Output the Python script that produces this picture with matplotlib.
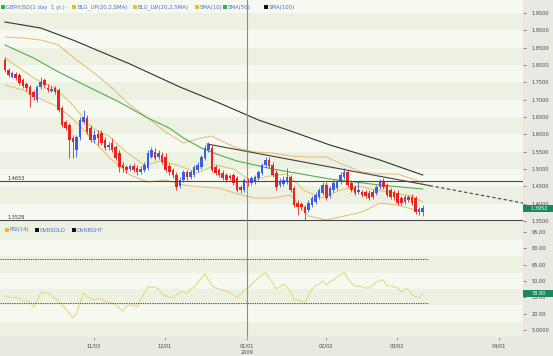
import matplotlib
matplotlib.use("Agg")
import matplotlib.pyplot as plt
import matplotlib.transforms as mtrans
from matplotlib.patches import Rectangle
from matplotlib.ticker import FixedLocator, FixedFormatter
import numpy as np

# ---------------- data (GBP/USD daily) ----------------
opens = [1.8144,1.7856,1.7654,1.7740,1.7711,1.7567,1.7452,1.7365,1.7221,1.6990,
 1.7365,1.7567,1.7336,1.7250,1.7336,1.7279,1.6759,1.6355,1.6269,1.5894,
 1.5548,1.5923,1.6355,1.6471,1.6182,1.5836,1.6009,1.6038,1.5836,1.5634,
 1.5749,1.5634,1.5461,1.5115,1.5057,1.4999,1.5086,1.5028,1.4913,1.4971,
 1.5028,1.5346,1.5490,1.5346,1.5403,1.5346,1.5086,1.4971,1.4826,1.4509,
 1.4682,1.4913,1.4769,1.4826,1.4971,1.5057,1.5317,1.5548,1.5605,1.5057,
 1.4971,1.4884,1.4826,1.4797,1.4826,1.4740,1.4480,1.4394,1.4624,1.4595,
 1.4624,1.4740,1.4884,1.5115,1.5259,1.5115,1.4884,1.4538,1.4567,1.4624,
 1.4769,1.4451,1.4018,1.3989,1.3903,1.3817,1.3961,1.4047,1.4191,1.4307,
 1.4538,1.4220,1.4394,1.4451,1.4624,1.4769,1.4913,1.4595,1.4480,1.4336,
 1.4336,1.4336,1.4307,1.4336,1.4307,1.4480,1.4624,1.4538,1.4394,1.4336,
 1.4307,1.4162,1.4047,1.4191,1.4191,1.4162,1.3759,1.3759]
closes = [1.7856,1.7711,1.7769,1.7625,1.7480,1.7394,1.7336,1.7134,1.7077,1.7365,
 1.7509,1.7423,1.7279,1.7307,1.7221,1.6702,1.6269,1.6182,1.5836,1.5778,
 1.5923,1.6413,1.6500,1.6067,1.5836,1.5980,1.5894,1.5749,1.5605,1.5692,
 1.5548,1.5317,1.5057,1.5028,1.4971,1.5086,1.4971,1.4913,1.4999,1.5115,
 1.5461,1.5548,1.5317,1.5461,1.5201,1.4971,1.4913,1.4826,1.4480,1.4682,
 1.4913,1.4769,1.4913,1.5057,1.5115,1.5346,1.5605,1.5692,1.4971,1.4884,
 1.4826,1.4740,1.4682,1.4740,1.4595,1.4394,1.4394,1.4682,1.4595,1.4740,
 1.4769,1.4913,1.5115,1.5259,1.5086,1.4826,1.4480,1.4624,1.4682,1.4769,
 1.4394,1.3961,1.3903,1.3903,1.3730,1.4018,1.4162,1.4249,1.4394,1.4538,
 1.4162,1.4451,1.4595,1.4624,1.4826,1.4913,1.4538,1.4394,1.4307,1.4394,
 1.4249,1.4220,1.4162,1.4191,1.4480,1.4624,1.4480,1.4249,1.4191,1.4191,
 1.4018,1.4018,1.4191,1.4105,1.4018,1.3759,1.3846,1.3875]
highs = [1.8231,1.7913,1.7827,1.7798,1.7769,1.7625,1.7509,1.7423,1.7279,1.7423,
 1.7654,1.7625,1.7452,1.7394,1.7394,1.7336,1.6817,1.6413,1.6326,1.5980,
 1.5980,1.6500,1.6702,1.6557,1.6269,1.6125,1.6125,1.6125,1.5923,1.5778,
 1.5894,1.5692,1.5548,1.5201,1.5115,1.5144,1.5172,1.5115,1.5086,1.5201,
 1.5548,1.5634,1.5605,1.5548,1.5490,1.5461,1.5172,1.5028,1.4913,1.4769,
 1.4971,1.4971,1.4971,1.5115,1.5201,1.5403,1.5692,1.5778,1.5692,1.5115,
 1.5028,1.4971,1.4884,1.4855,1.4884,1.4797,1.4538,1.4740,1.4740,1.4797,
 1.4826,1.4971,1.5172,1.5346,1.5346,1.5201,1.4971,1.4740,1.4797,1.5028,
 1.4826,1.4509,1.4105,1.4047,1.3961,1.4105,1.4220,1.4336,1.4451,1.4624,
 1.4624,1.4509,1.4682,1.4682,1.4913,1.5028,1.4971,1.4682,1.4538,1.4624,
 1.4394,1.4394,1.4394,1.4423,1.4538,1.4711,1.4740,1.4595,1.4451,1.4394,
 1.4394,1.4220,1.4249,1.4249,1.4278,1.4220,1.3903,1.3961]
lows = [1.7798,1.7654,1.7625,1.7567,1.7423,1.7336,1.7250,1.6788,1.6990,1.6932,
 1.7307,1.7336,1.7221,1.7221,1.7163,1.6644,1.6211,1.6125,1.5317,1.5317,
 1.5346,1.5836,1.6298,1.6009,1.5778,1.5749,1.5692,1.5692,1.5548,1.5548,
 1.5490,1.5259,1.4913,1.4913,1.4884,1.4942,1.4913,1.4826,1.4855,1.4913,
 1.4971,1.5317,1.5259,1.5288,1.5144,1.4913,1.4826,1.4740,1.4394,1.4451,
 1.4624,1.4682,1.4711,1.4769,1.4913,1.4999,1.5259,1.5490,1.4913,1.4826,
 1.4769,1.4682,1.4624,1.4682,1.4538,1.4336,1.4307,1.4336,1.4509,1.4538,
 1.4567,1.4682,1.4826,1.5057,1.5028,1.4769,1.4394,1.4480,1.4509,1.4567,
 1.4336,1.3903,1.3672,1.3817,1.3528,1.3759,1.3903,1.3989,1.4134,1.4249,
 1.4105,1.4162,1.4336,1.4394,1.4567,1.4711,1.4480,1.4336,1.4249,1.4278,
 1.4191,1.4162,1.4105,1.4134,1.4249,1.4423,1.4423,1.4191,1.4134,1.4105,
 1.3961,1.3961,1.3989,1.4047,1.3961,1.3701,1.3672,1.3643]

# indicator lines (bar index, value)
sma10_idx = [0,4,9,14,19,24,29,34,39,44,49,54,59,64,69,74,79,84,89,94,99,104,109,114,117]
sma10_val = [1.8202,1.7913,1.7567,1.7336,1.6846,1.6211,1.5951,1.5490,1.5115,1.5230,1.5086,1.4884,
             1.5115,1.4999,1.4653,1.4797,1.4855,1.4365,1.4162,1.4394,1.4509,1.4394,1.4307,1.4220,1.4047]
bbup_idx = [0,5,10,15,20,25,30,35,40,45,50,55,58,60,65,70,75,80,85,90,95,100,105,110,115,117]
bbup_val = [1.8808,1.8779,1.8721,1.8577,1.8144,1.7769,1.7336,1.6846,1.6471,1.6067,1.5749,1.5894,1.5951,
            1.5836,1.5605,1.5490,1.5461,1.5374,1.5346,1.5346,1.5115,1.4913,1.4855,1.4855,1.4682,1.4595]
bblw_idx = [0,5,10,15,20,25,30,35,40,45,50,55,60,65,70,75,80,85,90,95,100,105,110,115,117]
bblw_val = [1.7423,1.7279,1.7019,1.6788,1.6355,1.5778,1.5259,1.4826,1.4624,1.4682,1.4538,1.4480,1.4451,
            1.4278,1.4162,1.4162,1.4249,1.3643,1.3528,1.3643,1.3759,1.4018,1.3961,1.3817,1.3759]
sma50_idx = [0,8,15,24,32,40,46,50,55,60,65,70,75,83,91,98,105,111,117]
sma50_val = [1.8577,1.8202,1.7798,1.7336,1.6932,1.6471,1.6182,1.5894,1.5605,1.5403,1.5230,1.5115,
             1.4999,1.4855,1.4711,1.4624,1.4538,1.4480,1.4422]
sma100_idx = [0,10,19,35,49,60,71,80,91,105,117]
sma100_val = [1.9240,1.9067,1.8721,1.8029,1.7365,1.6904,1.6413,1.6096,1.5692,1.5259,1.4826]

rsi = [36.2,35.3,34.4,35.3,33.5,31.6,31.6,30.7,26.1,32.0,
 39.0,39.0,39.0,36.2,34.4,31.6,28.0,24.3,20.6,16.0,
 19.7,29.8,39.0,35.3,34.4,32.5,33.5,33.5,31.6,30.7,
 29.8,28.0,25.2,22.4,27.0,28.0,28.0,26.1,32.5,39.0,
 44.5,44.5,44.5,42.6,38.1,36.2,35.3,34.4,37.1,39.9,
 39.9,39.0,42.6,44.5,48.2,52.7,56.4,50.9,45.4,43.6,
 42.6,41.7,40.8,39.0,37.1,34.4,38.1,41.7,43.6,46.3,
 50.0,52.7,55.5,57.3,52.7,48.2,42.6,44.5,47.2,44.5,
 39.9,32.5,32.5,31.6,29.8,37.1,42.6,45.4,47.2,50.0,
 46.3,49.1,50.9,53.7,55.5,58.3,52.7,48.2,45.4,45.4,
 44.5,43.6,43.6,46.3,49.1,50.0,50.9,45.4,45.4,44.5,
 43.6,39.9,42.6,42.6,37.1,35.3,34.4,38.8]

level_hi = 1.4653
level_lo = 1.3528
trend_start = (56.6, 1.5721)
trend_end = (145.1, 1.4018)
trend_solid_end = 119.0
rsi_oversold = 30
rsi_overbought = 70
cross_x = 67.8
last_price_text = "1.3952"
last_rsi_text = "38.80"

price_ticks = [1.35,1.40,1.45,1.50,1.55,1.60,1.65,1.70,1.75,1.80,1.85,1.90,1.95]
rsi_ticks = [5,20,35,50,65,80,95]
rsi_tick_labels = ["5.0000","20.00","35.00","50.00","65.00","80.00","95.00"]
date_pos = [24.8,44.8,67.8,89.8,109.8,138.4]
date_labels = ["11/03","12/01","01/01","02/02","03/02","04/01"]

# ---------------- figure ----------------
W, H = 553, 356
fig = plt.figure(figsize=(W/100, H/100), dpi=100)
fig.patch.set_facecolor("#e9e9e2")

def px_axes(x0, y0, x1, y1):
    return fig.add_axes([x0/W, 1-y1/H, (x1-x0)/W, (y1-y0)/H])

axp = px_axes(0, 0, 523, 224)
axr = px_axes(0, 224, 523, 337)
XL = (-1.4, 145.1)
for ax in (axp, axr):
    ax.set_xlim(*XL)
    for s in ax.spines.values():
        s.set_visible(False)
axp.set_ylim(1.3413, 1.9875)
axr.set_ylim(-1.43, 102.3)

DARK = "#edf1e1"
LIGHT = "#f6f9ef"
for k in range(26, 40):
    lo = k*0.05
    axp.axhspan(lo, lo+0.05, color=DARK if k % 2 == 0 else LIGHT, zorder=0, lw=0)
for j, cc in enumerate(range(95, -10, -15)):
    axr.axhspan(cc-7.5, cc+7.5, color=DARK if j % 2 == 0 else LIGHT, zorder=0, lw=0)

o = np.array(opens); c = np.array(closes); h = np.array(highs); l = np.array(lows)
idx = np.arange(len(c))
RED = "#ea2320"; BLUE = "#3d5de6"
cols = np.where(c >= o, BLUE, RED)
axp.vlines(idx, l, h, colors=cols, lw=0.6, zorder=3)
axp.bar(idx, np.maximum(np.abs(c-o), 0.0012), bottom=np.minimum(o, c), width=0.72,
        color=cols, lw=0, zorder=4)

axp.plot(bbup_idx, bbup_val, color="#e7c07f", lw=0.8, zorder=2)
axp.plot(bblw_idx, bblw_val, color="#e7c07f", lw=0.8, zorder=2)
axp.plot(sma10_idx, sma10_val, color="#dccb6a", lw=0.8, zorder=2)
axp.plot(sma50_idx, sma50_val, color="#4cb04c", lw=0.8, zorder=2)
axp.plot(sma100_idx, sma100_val, color="#303030", lw=0.8, zorder=2)

bt = mtrans.blended_transform_factory(axp.transAxes, axp.transData)
for lv in (level_hi, level_lo):
    axp.axhline(lv, color="#4a4a4a", lw=0.8, zorder=5)
    axp.text(8/523, lv + 0.0012, f"{lv:.4f}", transform=bt, fontsize=3.6,
             color="#333333", va="bottom", ha="left", zorder=6)

slope = (trend_end[1]-trend_start[1])/(trend_end[0]-trend_start[0])
ymid = trend_start[1] + slope*(trend_solid_end-trend_start[0])
axp.plot([trend_start[0], trend_solid_end], [trend_start[1], ymid], color="#404040", lw=0.8, zorder=5)
axp.plot([trend_solid_end, trend_end[0]], [ymid, trend_end[1]], color="#404040", lw=0.8,
         ls=(0, (3, 2.2)), zorder=5)

for ax in (axp, axr):
    ax.axvline(cross_x, color="#8c8c8c", lw=0.8, zorder=6)

# RSI panel
axr.plot(idx, rsi, color="#e6dd8c", lw=0.9, zorder=3)
axr.hlines([rsi_oversold, rsi_overbought], XL[0], 118.4, colors="#3a3a3a", lw=0.6,
           linestyles=[(0, (1.6, 1.2))], zorder=4)

# axes ticks & labels
TL = "#444444"
axp.yaxis.tick_right()
axp.set_yticks(price_ticks)
axp.set_yticklabels([f"{v:.4f}" for v in price_ticks])
axp.tick_params(axis="y", length=2.5, width=0.6, color="#777777", labelsize=3.6,
                labelcolor=TL, pad=3.5)
axp.set_xticks([])
axr.yaxis.tick_right()
axr.yaxis.set_major_locator(FixedLocator(rsi_ticks))
axr.yaxis.set_major_formatter(FixedFormatter(rsi_tick_labels))
axr.tick_params(axis="y", length=2.5, width=0.6, color="#777777", labelsize=3.6,
                labelcolor=TL, pad=3.5)
axr.set_xticks(date_pos)
axr.set_xticklabels(date_labels)
axr.tick_params(axis="x", length=2, width=0.5, color="#777777", labelsize=3.6,
                labelcolor=TL, pad=2.5)
fig.text(247/W, 1-353/H, "2009", fontsize=3.6, color=TL, ha="center", va="center")

# value boxes
GREEN = "#188a5c"
def value_box(ax, val, text, hpx, per_px, dy_px=0.0):
    tr = mtrans.blended_transform_factory(ax.transAxes, ax.transData)
    hh = hpx*per_px
    yc = val - dy_px*per_px
    ax.add_patch(Rectangle((1.0, yc-hh/2), 30/523, hh, transform=tr, color=GREEN,
                           clip_on=False, zorder=10, lw=0))
    ax.text(539/523, yc, text, transform=tr, color="white", fontsize=3.6,
            ha="center", va="center", zorder=11, clip_on=False)
value_box(axp, closes[-1], last_price_text, 7, 0.002885, dy_px=1.0)
value_box(axr, rsi[-1], last_rsi_text, 7, 1/1.089)

# legends
LEG = "#4d70d4"
def legend_row(items, ypx):
    for xsq, color, label in items:
        fig.add_artist(Rectangle((xsq/W, 1-(ypx+2)/H), 4/W, 4/H, transform=fig.transFigure,
                                 color=color, lw=0))
        fig.text((xsq+5)/W, 1-ypx/H, label, fontsize=3.9, color=LEG, va="center", ha="left")

legend_row([(1, "#2db34a", "GBP/USD(1 day  1 yr.)"),
            (72, "#e3c21c", "BLG_UP(20,2,SMA)"),
            (133, "#e3c21c", "BLG_LW(20,2,SMA)"),
            (195, "#e3c21c", "SMA(10)"),
            (223, "#2db34a", "SMA(50)"),
            (264, "#111111", "SMA(100)")], 7)
legend_row([(5, "#e3c21c", "RSI(14)"),
            (35, "#111111", "OVRSOLD"),
            (72, "#111111", "OVRBGHT")], 230)

fig.savefig("out.png", dpi=100, facecolor=fig.get_facecolor())
